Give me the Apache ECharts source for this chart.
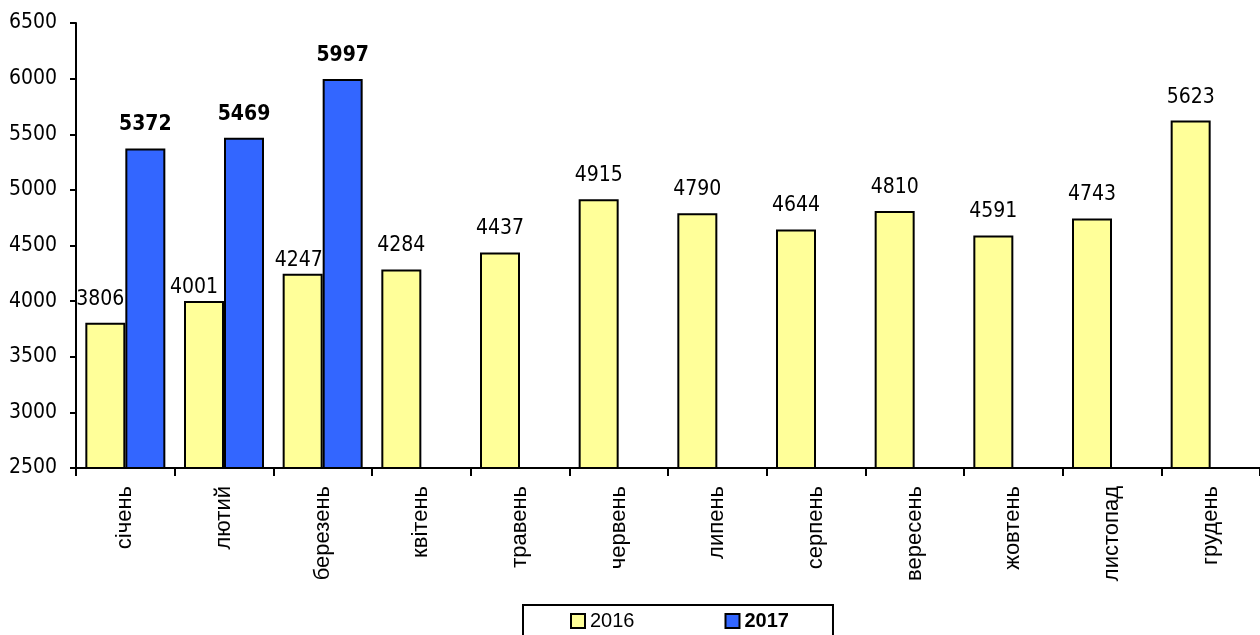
<!DOCTYPE html>
<html>
<head>
<meta charset="utf-8">
<script src="https://cdn.jsdelivr.net/npm/echarts@6/dist/echarts.min.js"></script>
<style>
html,body{margin:0;padding:0;background:#fff;}
#chart{width:1260px;height:635px;}
</style>
</head>
<body>
<div id="chart"></div>
<script>
const months = ['січень','лютий','березень','квітень','травень','червень','липень','серпень','вересень','жовтень','листопад','грудень'];
const values2016 = [3806, 4001, 4247, 4284, 4437, 4915, 4790, 4644, 4810, 4591, 4743, 5623];
const values2017 = [5372, 5469, 5997, null, null, null, null, null, null, null, null, null];
const yMin = 2500, yMax = 6500, yStep = 500;

const numFont = '"DejaVu Sans Condensed", "DejaVu Sans", sans-serif';
const txtFont = '"Liberation Sans", Arial, sans-serif';

// label nudges (style only) for the first three 2016 labels, which sit beside the 2017 bars
const nudge = {0: [-5, 0], 1: [-10, 10], 2: [-4, 10]};

const data2016 = values2016.map((v, i) => nudge[i] ? {value: v, label: {offset: nudge[i]}} : v);

const chart = echarts.init(document.getElementById('chart'), null, {renderer: 'canvas'});
chart.setOption({
  animation: false,
  backgroundColor: '#fff',
  grid: {left: 76, top: 23, width: 1193, height: 445, containLabel: false},
  legend: {
    left: 523, top: 605,
    padding: [6, 44, 20, 47],
    borderColor: '#000', borderWidth: 2,
    itemWidth: 14, itemHeight: 14, itemGap: 90,
    icon: 'rect',
    textStyle: {fontFamily: txtFont, fontSize: 20, color: '#000'},
    data: [
      {name: '2016'},
      {name: '2017', textStyle: {fontWeight: 'bold'}}
    ]
  },
  xAxis: {
    type: 'category',
    data: months,
    axisLine: {lineStyle: {color: '#000', width: 2}},
    axisTick: {show: true, length: 8, lineStyle: {color: '#000', width: 2}},
    axisLabel: {rotate: 90, margin: 18, interval: 0, fontFamily: txtFont, fontSize: 22, color: '#000'},
    splitLine: {show: false}
  },
  yAxis: {
    type: 'value',
    min: yMin, max: yMax, interval: yStep,
    axisLine: {show: true, lineStyle: {color: '#000', width: 2}},
    axisTick: {show: true, length: 6, lineStyle: {color: '#000', width: 2}},
    axisLabel: {margin: 19, fontFamily: numFont, fontSize: 21, color: '#000', formatter: v => String(v)},
    splitLine: {show: false}
  },
  series: [
    {
      name: '2016', type: 'bar', data: data2016,
      barWidth: 40, barGap: '0%',
      itemStyle: {color: '#FFFF99', borderColor: '#000', borderWidth: 2},
      label: {show: true, position: 'top', distance: 13, fontFamily: numFont, fontSize: 21, color: '#000'}
    },
    {
      name: '2017', type: 'bar', data: values2017,
      barWidth: 40, barGap: '0%',
      itemStyle: {color: '#3366FF', borderColor: '#000', borderWidth: 2},
      label: {show: true, position: 'top', distance: 13, fontFamily: numFont, fontSize: 21, fontWeight: 'bold', color: '#000'}
    }
  ]
});
</script>
</body>
</html>
